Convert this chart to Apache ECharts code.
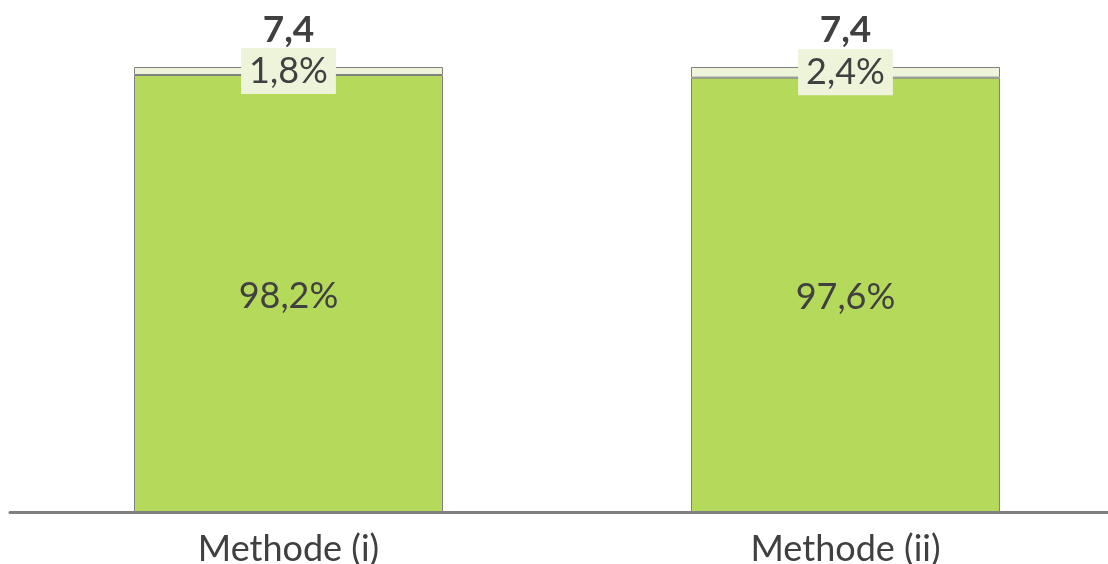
<!DOCTYPE html>
<html><head><meta charset="utf-8">
<script src="https://cdn.jsdelivr.net/npm/echarts@6/dist/echarts.min.js"></script>
<style>html,body{margin:0;padding:0;background:#fff}#c{width:1108px;height:564px}</style>
</head><body><div id="c"></div>
<script>
const categories = ['Methode (i)', 'Methode (ii)'];
const mainShare = [98.2, 97.6];
const restShare = [1.8, 2.4];
const totals = [7.4, 7.4];

const fmt = v => String(v.toFixed(1)).replace('.', ',');
const chart = echarts.init(document.getElementById('c'));
chart.setOption({
  animation: false,
  grid: { left: 10, width: 1114, top: 67, bottom: 52, outerBoundsMode: 'none', containLabel: false },
  xAxis: {
    type: 'category', data: categories,
    axisLine: { lineStyle: { color: '#7f7f7f', width: 3 } },
    axisTick: { show: false },
    axisLabel: { color: '#404040', fontSize: 36, fontFamily: 'Lato', margin: 19 }
  },
  yAxis: { type: 'value', min: 0, max: 100, show: false, splitLine: { show: false } },
  series: [
    {
      type: 'bar', stack: 's', barWidth: 309, data: mainShare,
      itemStyle: { color: '#b5d95b', borderColor: '#808080', borderWidth: 1 },
      label: { show: true, position: 'inside', offset: [0, 3], color: '#404040', fontSize: 36, fontFamily: 'Lato',
        formatter: p => fmt(p.value) + '%' }
    },
    {
      type: 'bar', stack: 's', barWidth: 309, data: restShare, z: 3,
      itemStyle: { color: '#edf4d9', borderColor: '#808080', borderWidth: 1 },
      label: { show: true, position: 'inside', color: '#404040', fontSize: 36, fontFamily: 'Lato',
        backgroundColor: '#edf4d9', padding: [7, 8, 3, 8],
        formatter: p => fmt(p.value) + '%' }
    },
    {
      type: 'bar', stack: 's', barWidth: 309, data: totals.map(() => 0), z: 1,
      itemStyle: { color: 'transparent', borderWidth: 0 },
      label: { show: true, position: 'top', distance: 18, color: '#404040', fontSize: 37, fontWeight: 'bold', fontFamily: 'Lato',
        formatter: p => fmt(totals[p.dataIndex]) }
    }
  ]
});
</script></body></html>
